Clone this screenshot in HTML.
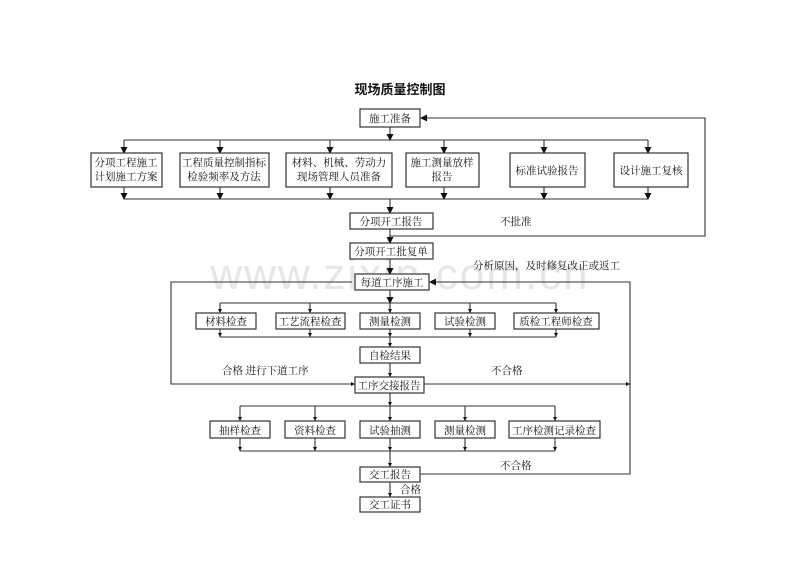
<!DOCTYPE html>
<html><head><meta charset="utf-8"><style>
html,body{margin:0;padding:0;background:#fff;}
svg{display:block;}
text{font-family:"Liberation Serif","Noto Serif CJK SC","Noto Sans CJK SC",serif;font-size:10.5px;fill:#111;}
.b{fill:#fff;stroke:#333;stroke-width:1.2;}
.l{stroke:#333;stroke-width:1.1;fill:none;}
</style></head><body>
<svg width="800" height="566" viewBox="0 0 800 566" xmlns="http://www.w3.org/2000/svg">
<defs>
<marker id="a" markerWidth="8" markerHeight="8" refX="6" refY="3.5" orient="auto" markerUnits="userSpaceOnUse"><path d="M0,0 L7,3.5 L0,7z" fill="#111"/></marker>
<marker id="s" markerWidth="5" markerHeight="5" refX="4" refY="2" orient="auto" markerUnits="userSpaceOnUse"><path d="M0,0 L4,2 L0,4z" fill="#111"/></marker>
</defs>
<text x="400" y="289" text-anchor="middle" style="font-family:'Liberation Sans',sans-serif;font-size:44px;fill:#e6e6e6;letter-spacing:2px">www.zixin.com.cn</text>
<text x="400" y="94" text-anchor="middle" style="font-family:'Liberation Sans','Noto Sans CJK SC',sans-serif;font-size:13px;font-weight:bold">现场质量控制图</text>

<!-- top section -->
<rect class="b" x="360" y="109" width="60" height="18"/><text x="390" y="122" text-anchor="middle">施工准备</text>
<line class="l" x1="390" y1="127" x2="390" y2="140" marker-end="url(#a)"/>
<line class="l" x1="124" y1="140" x2="648" y2="140"/>
<g marker-end="url(#a)">
<line class="l" x1="124" y1="140" x2="124" y2="153"/><line class="l" x1="220" y1="140" x2="220" y2="153"/>
<line class="l" x1="330" y1="140" x2="330" y2="153"/><line class="l" x1="444" y1="140" x2="444" y2="153"/>
<line class="l" x1="544" y1="140" x2="544" y2="153"/><line class="l" x1="648" y1="140" x2="648" y2="153"/>
<line class="l" x1="124" y1="187" x2="124" y2="199"/><line class="l" x1="220" y1="187" x2="220" y2="199"/>
<line class="l" x1="330" y1="187" x2="330" y2="199"/><line class="l" x1="444" y1="187" x2="444" y2="199"/>
<line class="l" x1="544" y1="187" x2="544" y2="199"/><line class="l" x1="648" y1="187" x2="648" y2="199"/>
</g>
<line class="l" x1="124" y1="199" x2="648" y2="199"/>
<rect class="b" x="91" y="153" width="71" height="34"/><text x="126" y="166" text-anchor="middle">分项工程施工</text><text x="126" y="180" text-anchor="middle">计划施工方案</text>
<rect class="b" x="180" y="153" width="89" height="34"/><text x="224" y="166" text-anchor="middle">工程质量控制指标</text><text x="224" y="180" text-anchor="middle">检验频率及方法</text>
<rect class="b" x="286" y="153" width="106" height="34"/><text x="339" y="166" text-anchor="middle">材料、机械、劳动力</text><text x="339" y="180" text-anchor="middle">现场管理人员准备</text>
<rect class="b" x="406" y="153" width="73" height="34"/><text x="442" y="166" text-anchor="middle">施工测量放样</text><text x="442" y="180" text-anchor="middle">报告</text>
<rect class="b" x="510" y="153" width="75" height="34"/><text x="547" y="174" text-anchor="middle">标准试验报告</text>
<rect class="b" x="614" y="153" width="74" height="34"/><text x="651" y="174" text-anchor="middle">设计施工复核</text>

<line class="l" x1="390" y1="199" x2="390" y2="213" marker-end="url(#a)"/>
<rect class="b" x="350" y="213" width="83" height="16"/><text x="391" y="225" text-anchor="middle">分项开工报告</text>
<text x="500" y="225">不批准</text>
<line class="l" x1="390" y1="229" x2="390" y2="243" marker-end="url(#a)"/>
<polyline class="l" points="390,236 705,236 705,118 421,118" marker-end="url(#a)"/>
<rect class="b" x="350" y="243" width="83" height="16"/><text x="391" y="255" text-anchor="middle">分项开工批复单</text>
<text x="473" y="269">分析原因，及时修复改正或返工</text>
<line class="l" x1="390" y1="259" x2="390" y2="274" marker-end="url(#a)"/>

<!-- middle -->
<rect class="b" x="355" y="274" width="74" height="16"/><text x="392" y="286" text-anchor="middle">每道工序施工</text>
<polyline class="l" points="352,282 171,282 171,384 355,384" marker-end="url(#s)"/>
<polyline class="l" points="630,384 630,282 430,282" marker-end="url(#a)"/>
<line class="l" x1="390" y1="290" x2="390" y2="303" marker-end="url(#a)"/>
<line class="l" x1="220" y1="303" x2="556" y2="303"/>
<g marker-end="url(#s)">
<line class="l" x1="220" y1="303" x2="220" y2="313"/><line class="l" x1="310" y1="303" x2="310" y2="313"/>
<line class="l" x1="390" y1="303" x2="390" y2="313"/><line class="l" x1="470" y1="303" x2="470" y2="313"/>
<line class="l" x1="556" y1="303" x2="556" y2="313"/>
<line class="l" x1="220" y1="329" x2="220" y2="337"/><line class="l" x1="310" y1="329" x2="310" y2="337"/>
<line class="l" x1="390" y1="329" x2="390" y2="337"/><line class="l" x1="470" y1="329" x2="470" y2="337"/>
<line class="l" x1="556" y1="329" x2="556" y2="337"/>
</g>
<line class="l" x1="220" y1="337" x2="556" y2="337"/>
<rect class="b" x="196" y="313" width="60" height="16"/><text x="226" y="325" text-anchor="middle">材料检查</text>
<rect class="b" x="276" y="313" width="69" height="16"/><text x="310" y="325" text-anchor="middle">工艺流程检查</text>
<rect class="b" x="360" y="313" width="60" height="16"/><text x="390" y="325" text-anchor="middle">测量检测</text>
<rect class="b" x="435" y="313" width="60" height="16"/><text x="465" y="325" text-anchor="middle">试验检测</text>
<rect class="b" x="514" y="313" width="85" height="16"/><text x="556" y="325" text-anchor="middle">质检工程师检查</text>
<line class="l" x1="390" y1="337" x2="390" y2="347" marker-end="url(#s)"/>
<rect class="b" x="360" y="347" width="60" height="16"/><text x="390" y="359" text-anchor="middle">自检结果</text>
<text x="222" y="374">合格  进行下道工序</text>
<text x="491" y="374">不合格</text>
<line class="l" x1="390" y1="363" x2="390" y2="377" marker-end="url(#s)"/>
<rect class="b" x="355" y="377" width="69" height="16"/><text x="389" y="389" text-anchor="middle">工序交接报告</text>
<line class="l" x1="424" y1="384" x2="630" y2="384" marker-end="url(#s)"/>

<!-- bottom -->
<line class="l" x1="390" y1="393" x2="390" y2="406" marker-end="url(#s)"/>
<line class="l" x1="240" y1="406" x2="555" y2="406"/>
<g marker-end="url(#s)">
<line class="l" x1="240" y1="406" x2="240" y2="421"/><line class="l" x1="315" y1="406" x2="315" y2="421"/>
<line class="l" x1="390" y1="406" x2="390" y2="421"/><line class="l" x1="465" y1="406" x2="465" y2="421"/>
<line class="l" x1="555" y1="406" x2="555" y2="421"/>
<line class="l" x1="240" y1="438" x2="240" y2="451"/><line class="l" x1="315" y1="438" x2="315" y2="451"/>
<line class="l" x1="390" y1="438" x2="390" y2="451"/><line class="l" x1="465" y1="438" x2="465" y2="451"/>
<line class="l" x1="555" y1="438" x2="555" y2="451"/>
</g>
<line class="l" x1="240" y1="451" x2="555" y2="451"/>
<rect class="b" x="210" y="421" width="60" height="17"/><text x="240" y="434" text-anchor="middle">抽样检查</text>
<rect class="b" x="285" y="421" width="60" height="17"/><text x="315" y="434" text-anchor="middle">资料检查</text>
<rect class="b" x="360" y="421" width="60" height="17"/><text x="390" y="434" text-anchor="middle">试验抽测</text>
<rect class="b" x="435" y="421" width="60" height="17"/><text x="465" y="434" text-anchor="middle">测量检测</text>
<rect class="b" x="509" y="421" width="91" height="17"/><text x="554" y="434" text-anchor="middle">工序检测记录检查</text>
<text x="500" y="469">不合格</text>
<line class="l" x1="390" y1="451" x2="390" y2="467" marker-end="url(#s)"/>
<rect class="b" x="360" y="467" width="60" height="15"/><text x="390" y="478" text-anchor="middle">交工报告</text>
<polyline class="l" points="420,474 630,474 630,384"/>
<text x="400" y="493">合格</text>
<line class="l" x1="390" y1="482" x2="390" y2="497" marker-end="url(#s)"/>
<rect class="b" x="360" y="497" width="60" height="15"/><text x="390" y="508" text-anchor="middle">交工证书</text>
</svg>
</body></html>
